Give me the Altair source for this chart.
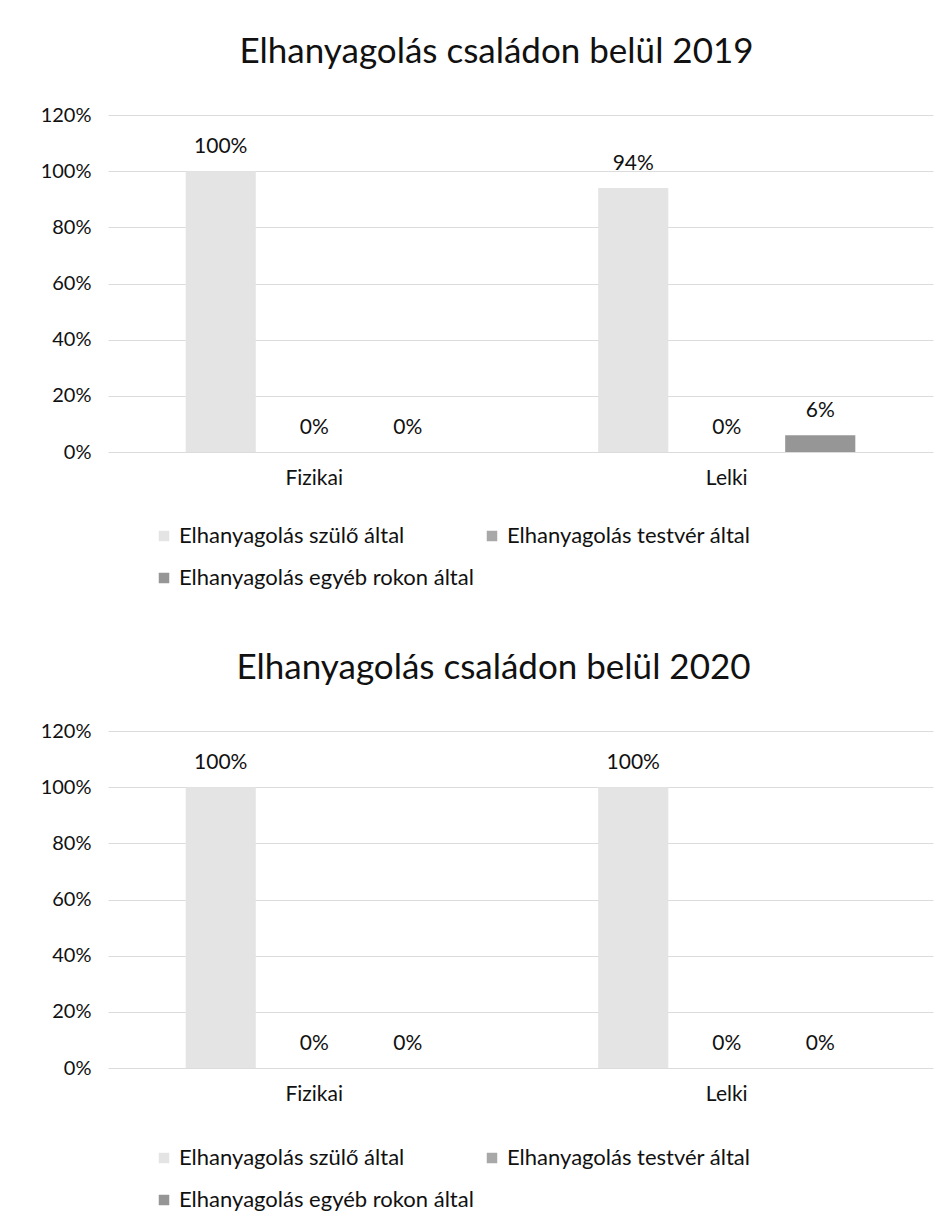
import altair as alt
import pandas as pd

categories = ["Fizikai", "Lelki"]
series = ["Elhanyagolás szülő által", "Elhanyagolás testvér által", "Elhanyagolás egyéb rokon által"]
values_2019 = [[1.00, 0.00, 0.00], [0.94, 0.00, 0.06]]
values_2020 = [[1.00, 0.00, 0.00], [1.00, 0.00, 0.00]]
titles = ["Elhanyagolás családon belül 2019", "Elhanyagolás családon belül 2020"]
colors = ["#e4e4e4", "#a8a8a8", "#969696"]
y_ticks = [0, 0.2, 0.4, 0.6, 0.8, 1.0, 1.2]

FONT = "Lato"


def make_df(values):
    rows = []
    for ci, cat in enumerate(categories):
        for si, s in enumerate(series):
            rows.append({"cat": cat, "series": s, "order": si, "value": values[ci][si]})
    return pd.DataFrame(rows)


def make_chart(values, title, legend_y, title_dx):
    df = make_df(values)
    base = alt.Chart(df).encode(
        x=alt.X("cat:N", sort=categories, title=None,
                scale=alt.Scale(paddingInner=0.32, paddingOuter=0.16),
                axis=alt.Axis(labelAngle=0, labelFontSize=21, labelPadding=15,
                              ticks=False, domain=False, labelColor="#111",
                              labelFont=FONT)),
        xOffset=alt.XOffset("series:N", sort=series,
                            scale=alt.Scale(paddingInner=0.25, paddingOuter=0.125)),
        y=alt.Y("value:Q", title=None,
                scale=alt.Scale(domain=[0, 1.2], nice=False),
                axis=alt.Axis(values=y_ticks, format=".0%", labelFontSize=20,
                              labelPadding=17, ticks=False, domain=False,
                              gridColor="#dcdcdc", labelColor="#111",
                              labelFont=FONT)),
    )
    bars = base.mark_bar().encode(
        color=alt.Color("series:N", sort=series,
                        scale=alt.Scale(domain=series, range=colors),
                        legend=alt.Legend(title=None, orient="none", legendX=45,
                                          legendY=legend_y, columns=2, direction="horizontal",
                                          symbolType="square", symbolSize=110,
                                          symbolStrokeWidth=0,
                                          labelFontSize=22, labelFont=FONT,
                                          labelColor="#111", columnPadding=7,
                                          rowPadding=20, labelLimit=400))
    )
    labels = base.mark_text(baseline="bottom", dy=-14, fontSize=21, font=FONT,
                            color="#111").encode(
        text=alt.Text("value:Q", format=".0%")
    )
    return alt.layer(bars, labels).properties(
        width=825, height=337,
        title=alt.TitleParams(title, fontSize=35, font=FONT, fontWeight="normal",
                              color="#111", offset=35, anchor="middle", dx=title_dx),
    )


c1 = make_chart(values_2019, titles[0], 410, -24)
c2 = make_chart(values_2020, titles[1], 416, -27)

chart = alt.vconcat(c1, c2, spacing=62).resolve_scale(color="independent").resolve_legend(
    color="independent"
).properties(
    padding={"left": 32, "top": 27, "right": 5, "bottom": 5}
).configure_view(stroke=None)

chart.save("out.html", embed_options={"renderer": "svg", "actions": False})
